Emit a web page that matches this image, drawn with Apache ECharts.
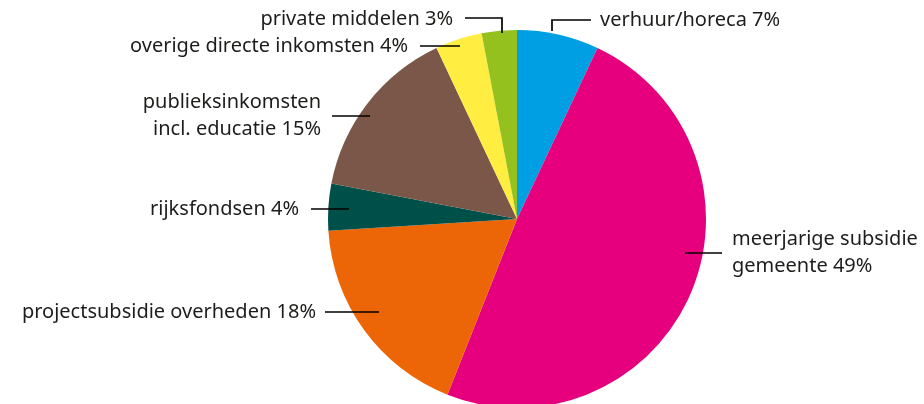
<!DOCTYPE html>
<html>
<head>
    <meta charset="UTF-8">
    <title>Inkomsten</title>
    <script src="https://cdn.jsdelivr.net/npm/echarts@6/dist/echarts.min.js"></script>
    <style>
        html, body { margin: 0; padding: 0; background: #fff; }
        #main { width: 924px; height: 404px; }
    </style>
</head>
<body>
    <div id="main"></div>
    <script type="text/javascript">
        // categorieen en percentages, met de klok mee vanaf boven
        var names = ['verhuur/horeca', 'meerjarige subsidie\ngemeente', 'projectsubsidie overheden',
            'rijksfondsen', 'publieksinkomsten\nincl. educatie', 'overige directe inkomsten', 'private middelen'];
        var values = [7, 49, 18, 4, 15, 4, 3];
        var colors = ['#009fe3', '#e6007e', '#ec6608', '#00504a', '#7b5749', '#ffed41', '#95c11f'];

        // plaats van de labels + lijntjes (x, y, align, lijnpunten)
        var labelPos = [
            { x: 600, y: 20, align: 'left', line: [[552, 31], [552, 20], [591, 20]] },
            { x: 732, y: 253, align: 'left', line: [[685, 253], [685, 253], [722, 253]] },
            { x: 316, y: 312, align: 'right', line: [[379, 312], [379, 312], [325, 312]] },
            { x: 299, y: 209, align: 'right', line: [[349, 209], [349, 209], [311, 209]] },
            { x: 321, y: 116, align: 'right', line: [[370, 116], [370, 116], [332, 116]] },
            { x: 408, y: 46, align: 'right', line: [[460, 46], [460, 46], [420, 46]] },
            { x: 453, y: 19, align: 'right', line: [[502, 33], [502, 18], [465, 18]] }
        ];

        var pieData = [];
        var labelData = [];
        for (var i = 0; i < names.length; i++) {
            pieData.push({ name: names[i], value: values[i], itemStyle: { color: colors[i] } });
            labelData.push({ name: names[i], value: values[i] });
        }

        var myChart = echarts.init(document.getElementById('main'));

        var option = {
            animation: false,
            series: [
                {
                    // de taart zelf
                    type: 'pie',
                    z: 1,
                    center: [517, 219],
                    radius: 189,
                    startAngle: 90,
                    clockwise: true,
                    data: pieData,
                    label: { show: false },
                    labelLine: { show: false }
                },
                {
                    // zelfde taart, doorzichtig, alleen voor labels en lijntjes erboven
                    type: 'pie',
                    z: 5,
                    silent: true,
                    center: [517, 219],
                    radius: 189,
                    startAngle: 90,
                    clockwise: true,
                    data: labelData,
                    itemStyle: { color: 'rgba(0,0,0,0)' },
                    label: {
                        show: true,
                        formatter: '{b} {c}%',
                        fontFamily: 'Noto Sans',
                        fontSize: 20,
                        lineHeight: 27,
                        color: '#1d1d1b',
                        overflow: 'none'
                    },
                    labelLine: {
                        show: true,
                        showAbove: true,
                        lineStyle: { color: '#000', width: 1.7 }
                    },
                    labelLayout: function (params) {
                        var p = labelPos[params.dataIndex];
                        return {
                            x: p.x,
                            y: p.y,
                            align: p.align,
                            verticalAlign: 'middle',
                            labelLinePoints: p.line
                        };
                    }
                }
            ]
        };

        myChart.setOption(option);
    </script>
</body>
</html>
